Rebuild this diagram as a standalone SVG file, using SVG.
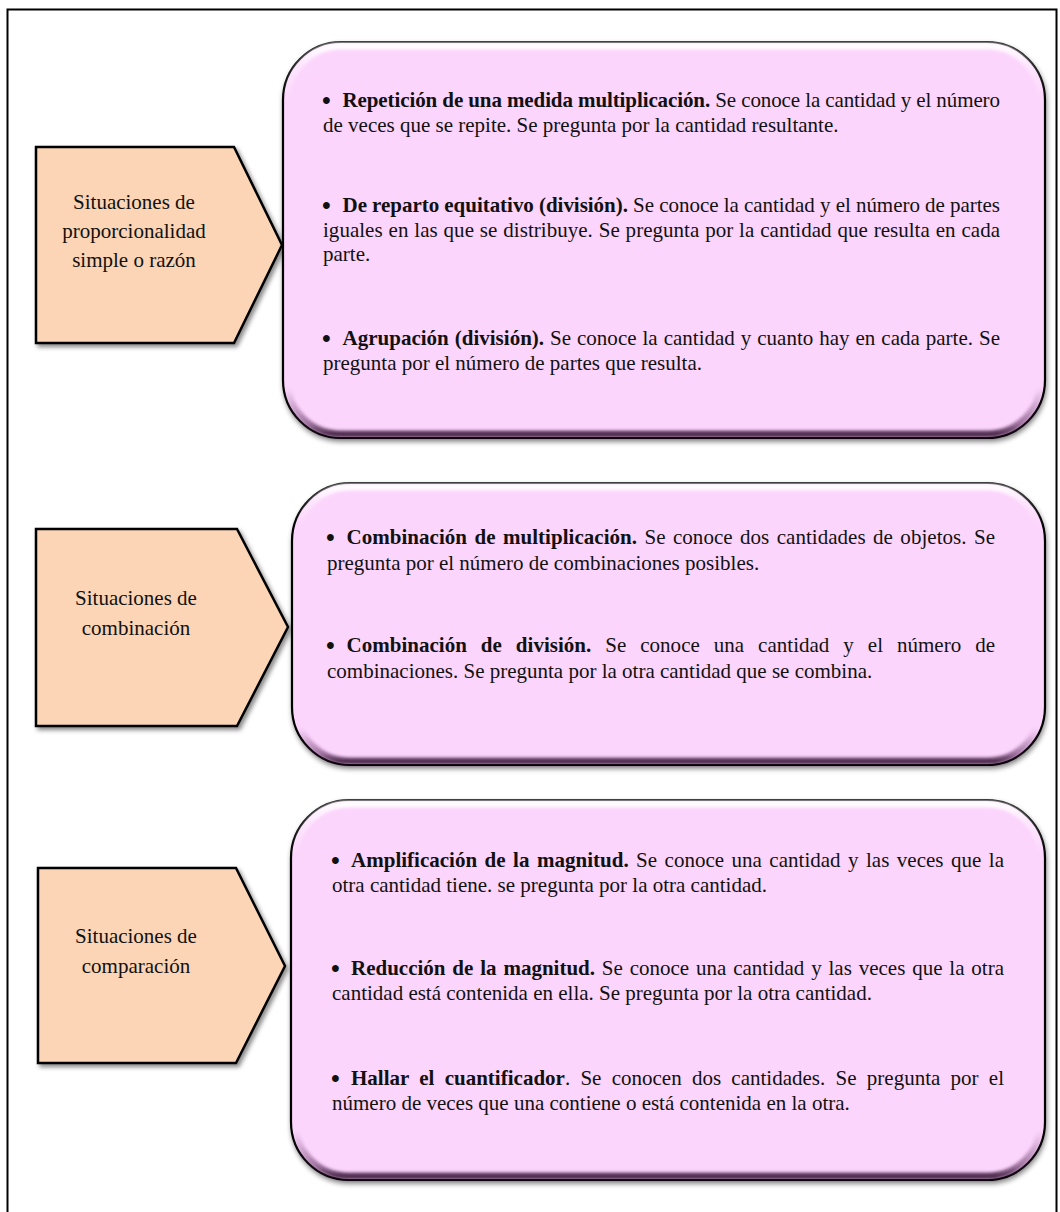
<svg xmlns="http://www.w3.org/2000/svg" width="1060" height="1212" viewBox="0 0 1060 1212">
<defs>
<style>
.t{font-family:"Liberation Serif","Times New Roman",serif;font-size:21px;fill:#111;}
.b{font-weight:bold;}
.c{text-anchor:middle;}
.bu{font-family:"Liberation Serif","Times New Roman",serif;font-size:25px;font-weight:bold;fill:#111;}
.pent{fill:#fbd5b5;stroke:#000;stroke-width:2.5;stroke-linejoin:miter;filter:url(#shPent);}
.box{fill:#fcd5fc;stroke:#000;stroke-width:2.2;filter:url(#shBox);}
.bev{fill:none;stroke:url(#bevel);stroke-width:7;filter:url(#soft);}
</style>
<filter id="shPent" x="-10%" y="-10%" width="130%" height="130%">
<feDropShadow dx="2.5" dy="3" stdDeviation="2" flood-color="#000" flood-opacity="0.45"/>
</filter>
<filter id="shBox" x="-5%" y="-5%" width="112%" height="115%">
<feDropShadow dx="1" dy="3" stdDeviation="2.5" flood-color="#000" flood-opacity="0.45"/>
</filter>
<filter id="soft" x="-5%" y="-5%" width="110%" height="110%">
<feGaussianBlur stdDeviation="1.6"/>
</filter>
<linearGradient id="bevel" x1="0" y1="0" x2="0" y2="1">
<stop offset="0" stop-color="#ffffff" stop-opacity="0.95"/>
<stop offset="0.05" stop-color="#ffffff" stop-opacity="0.45"/>
<stop offset="0.14" stop-color="#ffffff" stop-opacity="0"/>
<stop offset="0.88" stop-color="#6a3a6a" stop-opacity="0"/>
<stop offset="0.97" stop-color="#5a2a5a" stop-opacity="0.55"/>
<stop offset="1" stop-color="#301030" stop-opacity="0.85"/>
</linearGradient>
</defs>
<rect x="0" y="0" width="1060" height="1212" fill="#ffffff"/>
<rect id="frame" x="7.5" y="9.5" width="1049" height="1210" fill="none" stroke="#000" stroke-width="2"/>
<g id="connectors"></g>

<g id="node-prop">
<polygon class="pent" points="36,147 234,147 282,245 234,343 36,343"/>
<text class="t c" x="134" y="209">Situaciones de</text>
<text class="t c" x="134" y="238">proporcionalidad</text>
<text class="t c" x="134" y="267">simple o razón</text>
</g>

<g id="node-prop-detail">
<rect class="box" x="283" y="42" width="762" height="396" rx="58" ry="58"/>
<rect class="bev" x="287" y="46" width="754" height="388" rx="54" ry="54"/>
<text class="bu" x="322" y="109">•</text>
<text class="t" x="342.5" y="107" textLength="657.5" lengthAdjust="spacing"><tspan class="b">Repetición de una medida multiplicación.</tspan> Se conoce la cantidad y el número</text>
<text class="t" x="323" y="132">de veces que se repite. Se pregunta por la cantidad resultante.</text>
<text class="bu" x="322" y="214">•</text>
<text class="t" x="342.5" y="212" textLength="657.5" lengthAdjust="spacing"><tspan class="b">De reparto equitativo (división).</tspan> Se conoce la cantidad y el número de partes</text>
<text class="t" x="323" y="237" textLength="677" lengthAdjust="spacing" style="word-spacing:0.6px">iguales en las que se distribuye. Se pregunta por la cantidad que resulta en cada</text>
<text class="t" x="323" y="261">parte.</text>
<text class="bu" x="322" y="347">•</text>
<text class="t" x="342.5" y="345" textLength="657.5" lengthAdjust="spacing" style="word-spacing:0.7px"><tspan class="b">Agrupación (división).</tspan> Se conoce la cantidad y cuanto hay en cada parte. Se</text>
<text class="t" x="323" y="370">pregunta por el número de partes que resulta.</text>
</g>

<g id="node-comb">
<polygon class="pent" points="36,529 237,529 288,627 237,726 36,726"/>
<text class="t c" x="136" y="605">Situaciones de</text>
<text class="t c" x="136" y="635">combinación</text>
</g>

<g id="node-comb-detail">
<rect class="box" x="292" y="483" width="753" height="282" rx="58" ry="58"/>
<rect class="bev" x="296" y="487" width="745" height="274" rx="54" ry="54"/>
<text class="bu" x="326" y="546">•</text>
<text class="t" x="346.5" y="544" textLength="648.5" lengthAdjust="spacing" style="word-spacing:2.1px"><tspan class="b">Combinación de multiplicación.</tspan> Se conoce dos cantidades de objetos. Se</text>
<text class="t" x="327" y="570">pregunta por el número de combinaciones posibles.</text>
<text class="bu" x="326" y="654">•</text>
<text class="t" x="346.5" y="652" textLength="648.5" lengthAdjust="spacing" style="word-spacing:8.7px"><tspan class="b">Combinación de división.</tspan> Se conoce una cantidad y el número de</text>
<text class="t" x="327" y="678">combinaciones. Se pregunta por la otra cantidad que se combina.</text>
</g>

<g id="node-compar">
<polygon class="pent" points="38,868 236,868 285,966 236,1063 38,1063"/>
<text class="t c" x="136" y="943">Situaciones de</text>
<text class="t c" x="136" y="973">comparación</text>
</g>

<g id="node-compar-detail">
<rect class="box" x="291" y="800" width="754" height="380" rx="58" ry="58"/>
<rect class="bev" x="295" y="804" width="746" height="372" rx="54" ry="54"/>
<text class="bu" x="331" y="869">•</text>
<text class="t" x="351" y="867" textLength="653" lengthAdjust="spacing" style="word-spacing:2.2px"><tspan class="b">Amplificación de la magnitud.</tspan> Se conoce una cantidad y las veces que la</text>
<text class="t" x="332" y="892">otra cantidad tiene. se pregunta por la otra cantidad.</text>
<text class="bu" x="331" y="977">•</text>
<text class="t" x="351" y="975" textLength="653" lengthAdjust="spacing" style="word-spacing:1.6px"><tspan class="b">Reducción de la magnitud.</tspan> Se conoce una cantidad y las veces que la otra</text>
<text class="t" x="332" y="1000">cantidad está contenida en ella. Se pregunta por la otra cantidad.</text>
<text class="bu" x="331" y="1087">•</text>
<text class="t" x="351" y="1085" textLength="653" lengthAdjust="spacing" style="word-spacing:5px"><tspan class="b">Hallar el cuantificador</tspan>. Se conocen dos cantidades. Se pregunta por el</text>
<text class="t" x="332" y="1110">número de veces que una contiene o está contenida en la otra.</text>
</g>
</svg>
